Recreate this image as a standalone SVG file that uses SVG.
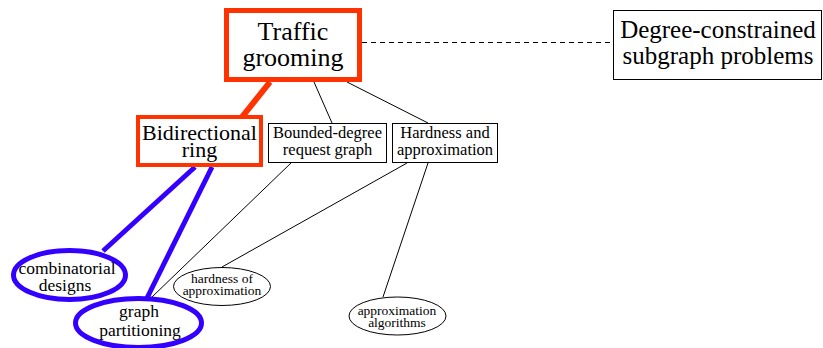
<svg xmlns="http://www.w3.org/2000/svg" width="823" height="348" viewBox="0 0 823 348">
  <style>
    text { font-family: 'Liberation Serif', 'DejaVu Serif', serif; fill: #000; text-anchor: middle; }
    .box { fill: #fff; stroke: #000; stroke-width: 1; }
    .hot { fill: #fff; stroke: #ff3300; }
    .blue { fill: #fff; stroke: #3300ff; stroke-width: 5; }
    .ell { fill: #fff; stroke: #000; stroke-width: 1; }
    .thin { stroke: #000; stroke-width: 1; fill: none; }
  </style>
  <rect width="823" height="348" fill="#fff"/>

  <g id="connectors">
    <line class="thin" x1="362" y1="42.5" x2="613" y2="42.5" stroke-dasharray="5,4"/>
    <line x1="270" y1="82" x2="242" y2="117" stroke="#ff3300" stroke-width="6"/>
    <line class="thin" x1="314" y1="82" x2="332" y2="123"/>
    <line class="thin" x1="347" y1="82" x2="428" y2="123"/>
    <line x1="195" y1="167" x2="103" y2="251" stroke="#3300ff" stroke-width="5"/>
    <line x1="212" y1="167" x2="147" y2="298" stroke="#3300ff" stroke-width="5"/>
    <line class="thin" x1="291" y1="163" x2="152" y2="297"/>
    <line class="thin" x1="407" y1="163" x2="222" y2="267"/>
    <line class="thin" x1="428" y1="163" x2="383" y2="297"/>
  </g>

  <g id="traffic-grooming">
    <rect class="hot" x="226.5" y="10.5" width="133" height="69" stroke-width="5"/>
    <text x="293" y="40" font-size="26">Traffic</text>
    <text x="293" y="66" font-size="26">grooming</text>
  </g>

  <g id="degree-constrained">
    <rect class="box" x="613.5" y="10.5" width="208" height="69"/>
    <text x="718" y="38" font-size="25">Degree-constrained</text>
    <text x="718" y="64" font-size="25">subgraph problems</text>
  </g>

  <g id="bidirectional-ring">
    <rect class="hot" x="138" y="117" width="123" height="48" stroke-width="4"/>
    <text x="199.5" y="139.5" font-size="22">Bidirectional</text>
    <text x="199.5" y="157" font-size="22">ring</text>
  </g>

  <g id="bounded-degree">
    <rect class="box" x="268.5" y="123.5" width="118" height="39"/>
    <text x="327.5" y="137.5" font-size="16.5">Bounded-degree</text>
    <text x="327.5" y="155" font-size="16.5">request graph</text>
  </g>

  <g id="hardness-and-approximation">
    <rect class="box" x="392.5" y="123.5" width="105" height="39"/>
    <text x="445" y="137.5" font-size="16.5">Hardness and</text>
    <text x="445" y="155" font-size="16.5">approximation</text>
  </g>

  <g id="combinatorial-designs">
    <ellipse class="blue" cx="69.5" cy="275" rx="56" ry="24.5"/>
    <text x="67" y="274" font-size="17.5">combinatorial</text>
    <text x="65" y="291" font-size="17.5">designs</text>
  </g>

  <g id="graph-partitioning">
    <ellipse class="blue" cx="138.5" cy="323" rx="63" ry="24.5"/>
    <text x="139" y="317" font-size="17.5">graph</text>
    <text x="140" y="335.5" font-size="17.5">partitioning</text>
  </g>

  <g id="hardness-of-approximation">
    <ellipse class="ell" cx="222" cy="286.5" rx="48.5" ry="19"/>
    <text x="222" y="282.5" font-size="13.5">hardness of</text>
    <text x="222" y="294.5" font-size="13.5">approximation</text>
  </g>

  <g id="approximation-algorithms">
    <ellipse class="ell" cx="397.5" cy="316" rx="48.5" ry="19"/>
    <text x="397" y="315" font-size="13.5">approximation</text>
    <text x="397" y="327" font-size="13.5">algorithms</text>
  </g>
</svg>
